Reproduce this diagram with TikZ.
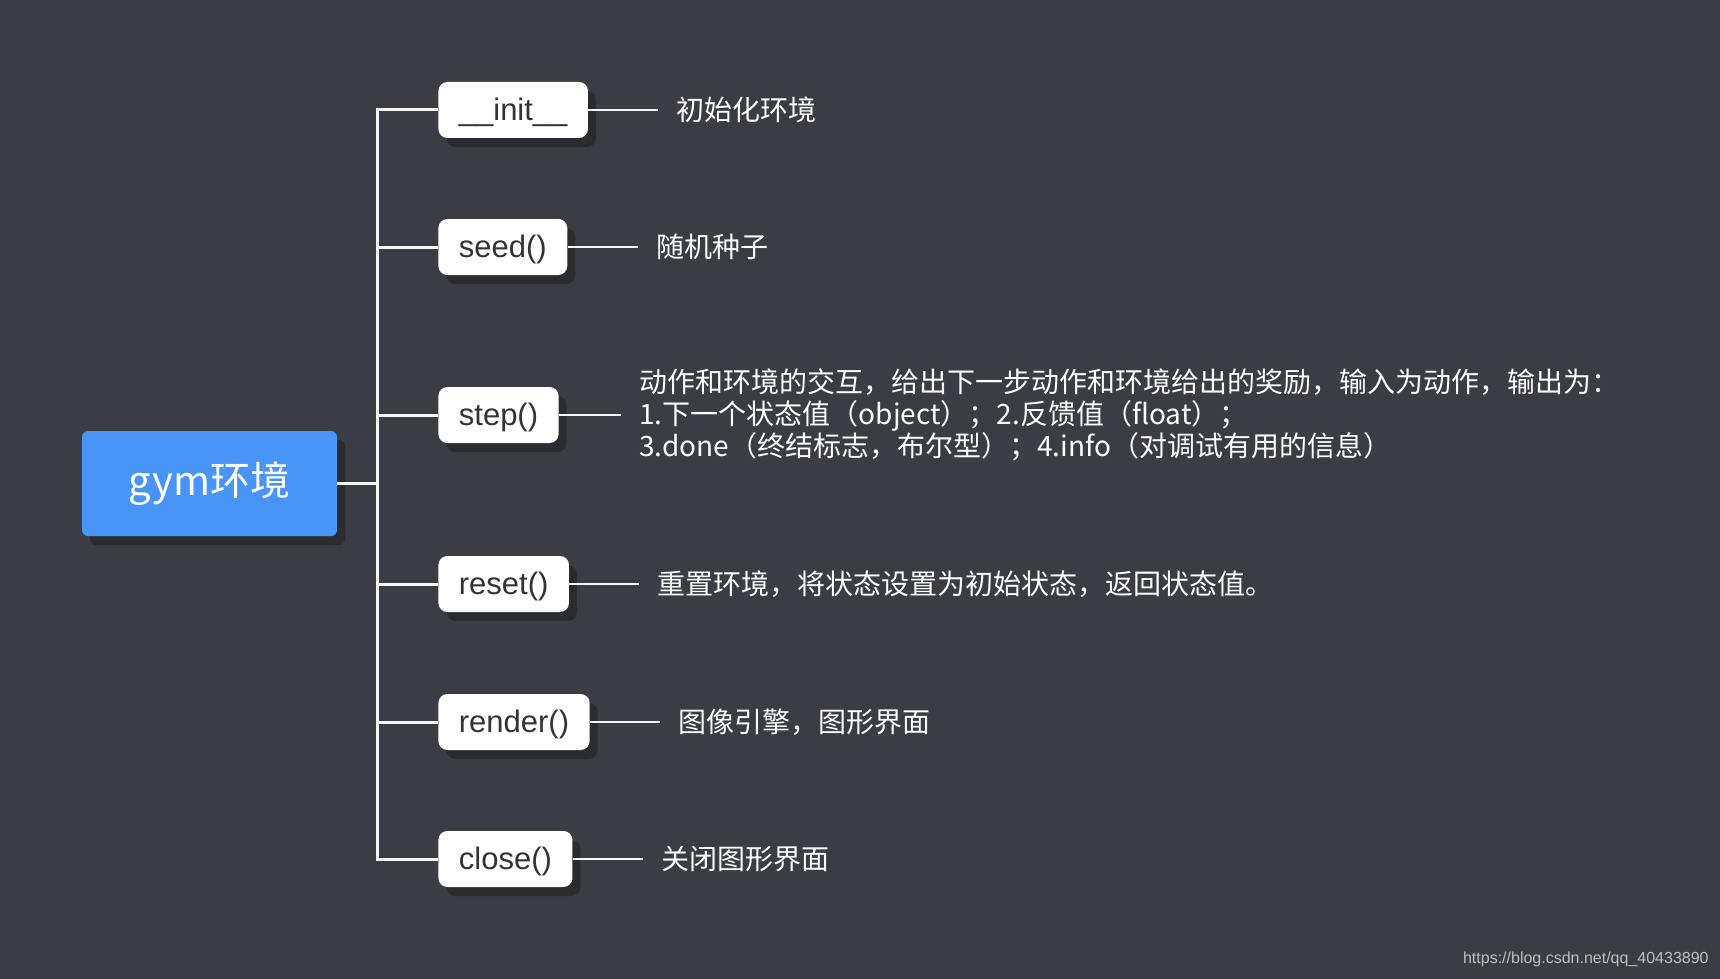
\documentclass[tikz,border=0pt]{standalone}
\usepackage{fontspec}
\setmainfont{Liberation Sans}
\newfontfamily\cjk{Noto Sans CJK SC}
\usetikzlibrary{positioning, shadows}
\definecolor{bgDark}   {RGB}{58,  61,  67}
\definecolor{gymBlue}  {RGB}{72,  149, 247}
\definecolor{boxShade} {RGB}{42,  44,  48}
\definecolor{labelInk} {RGB}{51,  51,  51}
\definecolor{lineWhite}{RGB}{245, 245, 245}
\definecolor{markGray} {RGB}{190, 190, 190}

\begin{document}
\begin{tikzpicture}[x=0.5pt, y=-0.5pt,
  softShadow/.style={drop shadow={shadow xshift=4pt, shadow yshift=-4.5pt,
      fill=boxShade, opacity=1}},
  rootBox/.style={fill=gymBlue, rounded corners=3pt, softShadow,
      minimum width=127.5pt, minimum height=52.5pt, text=white,
      font=\cjk\fontsize{20}{24}\selectfont},
  funcBox/.style={fill=white, rounded corners=4.5pt, softShadow, anchor=west,
      minimum height=28pt, inner xsep=10.25pt, text=labelInk,
      text height=13.5pt, text depth=3.3pt,
      font=\fontsize{15.5}{18}\selectfont},
  descText/.style={inner xsep=9pt, text=white, align=left,
      font=\cjk\fontsize{14}{16}\selectfont},
  branch/.style={lineWhite, line width=1.5pt},
  leaf/.style={lineWhite, line width=0.8pt}]
  \def\BX{438}   % left edge of the function boxes
  \def\GAP{35pt} % box to description

  % ---- canvas ----
  \useasboundingbox (0,0) rectangle (1720,979);
  \fill[bgDark] (0,0) rectangle (1720,979);

  % ---- root ----
  \node[rootBox] (gymRoot) at (209.5,483.5) {gym环境};

  % ---- functions ----
  \node[funcBox] (fInit)   at (\BX,110) {\_\_init\_\_};
  \node[funcBox] (fSeed)   at (\BX,247) {seed()};
  \node[funcBox] (fStep)   at (\BX,415) {step()};
  \node[funcBox] (fReset)  at (\BX,584) {reset()};
  \node[funcBox] (fRender) at (\BX,722) {render()};
  \node[funcBox] (fClose)  at (\BX,859) {close()};

  % ---- descriptions ----
  \node[descText, right=\GAP of fInit]   (dInit)   {初始化环境};
  \node[descText, right=\GAP of fSeed]   (dSeed)   {随机种子};
  \node[descText, right=31pt of fStep]   (dStep)
    {动作和环境的交互，给出下一步动作和环境给出的奖励，输入为动作，输出为：\\
     1.下一个状态值（object）；2.反馈值（float）；\\
     3.done（终结标志，布尔型）；4.info（对调试有用的信息）};
  \node[descText, right=\GAP of fReset]  (dReset)  {重置环境，将状态设置为初始状态，返回状态值。};
  \node[descText, right=\GAP of fRender] (dRender) {图像引擎，图形界面};
  \node[descText, right=\GAP of fClose]  (dClose)  {关闭图形界面};

  % ---- connectors ----
  \foreach \f in {fInit, fSeed, fStep, fReset, fRender, fClose}
    \draw[branch] (gymRoot.east) -- ++(40,0) |- (\f.west);
  \foreach \f/\d in {fInit/dInit, fSeed/dSeed, fStep/dStep,
                     fReset/dReset, fRender/dRender, fClose/dClose}
    \draw[leaf] (\f.east) -- (\d.west);

  % ---- watermark ----
  \node[anchor=east, text=markGray, font=\fontsize{8}{10}\selectfont, inner sep=0pt]
    (mark) at (1709,959) {https://blog.csdn.net/qq\_40433890};
\end{tikzpicture}
\end{document}
